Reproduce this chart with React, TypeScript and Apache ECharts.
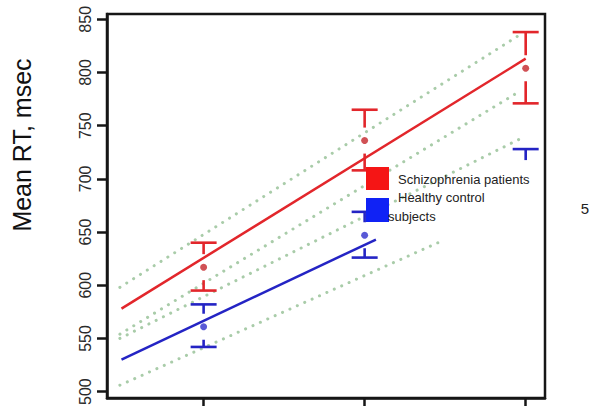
import { useEffect, useRef } from "react";
import * as echarts from "echarts";

// ---- data ----
const xTicks = [1, 2, 3];
const yTicks = [500, 550, 600, 650, 700, 750, 800, 850];

const groups = ["Schizophrenia patients", "Healthy control subjects"];

const schizoMeans = [617, 736, 804];
const schizoUpper = [640, 765, 838];
const schizoLower = [595, 708, 771];

const controlMeans: (number | null)[] = [561, 647, null];
const controlUpper: (number | null)[] = [582, 669, 728];
const controlLower: (number | null)[] = [542, 626, null];

// regression lines
const schizoFitX = [0.49, 3.0];
const schizoFitY = [578, 813];
const controlFitX = [0.49, 2.07];
const controlFitY = [530, 643];

// confidence bands (dotted)
const schizoBandX = [0.48, 2.97];
const schizoBandHiY = [598, 836];
const schizoBandLoY = [554, 783];
const controlBandHiX = [0.48, 2.97];
const controlBandHiY = [550, 738];
const controlBandLoX = [0.48, 2.47];
const controlBandLoY = [506, 641];

const RED = "#e2262b";
const RED_DOT = "#c4262b";
const BLUE = "#2424c4";
const BLUE_DOT = "#3030cc";
const BAND = "#a9cca9";
const FONT = "Liberation Sans, Arial, sans-serif";

const pairs = (xs: number[], ys: (number | null)[]) => xs.map((x, i) => [x, ys[i]]);

const errRender = (color: string) => (params: any, api: any) => {
  const x = api.value(0);
  const mean = api.value(1);
  const low = api.value(2);
  const high = api.value(3);
  const half = 13;
  const gap = 13;
  const style = { stroke: color, lineWidth: 2.6 };
  const children: any[] = [];
  const pm = mean == null || isNaN(mean) ? null : api.coord([x, mean]);
  if (high != null && !isNaN(high)) {
    const ph = api.coord([x, high]);
    children.push({ type: "line", shape: { x1: ph[0] - half, y1: ph[1], x2: ph[0] + half, y2: ph[1] }, style });
    const endY = pm ? pm[1] - gap : ph[1] + 11;
    children.push({ type: "line", shape: { x1: ph[0], y1: ph[1], x2: ph[0], y2: endY }, style });
  }
  if (low != null && !isNaN(low)) {
    const pl = api.coord([x, low]);
    children.push({ type: "line", shape: { x1: pl[0] - half, y1: pl[1], x2: pl[0] + half, y2: pl[1] }, style });
    const endY = pm ? pm[1] + gap : pl[1] - 11;
    children.push({ type: "line", shape: { x1: pl[0], y1: pl[1], x2: pl[0], y2: endY }, style });
  }
  return { type: "group", children };
};

export default function App() {
  const ref = useRef<HTMLDivElement>(null);
  useEffect(() => {
    if (!ref.current) return;
    const chart = echarts.init(ref.current, null, { renderer: "svg" });

    const bandLine = (name: string, xs: number[], ys: number[]) => ({
      name,
      type: "line",
      data: pairs(xs, ys),
      symbol: "none",
      z: 1,
      lineStyle: { color: BAND, width: 3, type: [0.1, 8], cap: "round" },
      silent: true,
    });

    chart.setOption({
      animation: false,
      grid: {
        left: 107,
        top: 14,
        width: 438,
        height: 384,
        show: true,
        borderColor: "#161616",
        borderWidth: 2.5,
        backgroundColor: "transparent",
        outerBoundsMode: "none",
      },
      xAxis: {
        type: "value",
        min: 0.4,
        max: 3.12,
        splitLine: { show: false },
        axisLine: { onZero: false, lineStyle: { color: "#161616", width: 2.5 } },
        axisTick: { customValues: xTicks, length: 8, lineStyle: { color: "#161616", width: 2.5 } },
        axisLabel: { show: false },
      },
      yAxis: {
        type: "value",
        min: 494,
        max: 855,
        splitLine: { show: false },
        axisLine: { onZero: false, lineStyle: { color: "#161616", width: 2.5 } },
        axisTick: { customValues: yTicks, length: 10, lineStyle: { color: "#161616", width: 2.5 } },
        axisLabel: {
          customValues: yTicks,
          rotate: 90,
          fontSize: 16,
          margin: 14,
          color: "#2a2a2a",
          fontFamily: FONT,
        },
      },
      series: [
        bandLine("schizoBandHi", schizoBandX, schizoBandHiY),
        bandLine("schizoBandLo", schizoBandX, schizoBandLoY),
        bandLine("controlBandHi", controlBandHiX, controlBandHiY),
        bandLine("controlBandLo", controlBandLoX, controlBandLoY),
        {
          name: groups[0] + " fit",
          type: "line",
          data: pairs(schizoFitX, schizoFitY),
          symbol: "none",
          z: 3,
          lineStyle: { color: RED, width: 2.5 },
        },
        {
          name: groups[1] + " fit",
          type: "line",
          data: pairs(controlFitX, controlFitY),
          symbol: "none",
          z: 3,
          lineStyle: { color: BLUE, width: 2.5 },
        },
        {
          name: groups[0] + " err",
          type: "custom",
          z: 4,
          renderItem: errRender(RED),
          data: xTicks.map((x, i) => [x, schizoMeans[i], schizoLower[i], schizoUpper[i]]),
        },
        {
          name: groups[1] + " err",
          type: "custom",
          z: 4,
          renderItem: errRender(BLUE),
          data: xTicks.map((x, i) => [x, controlMeans[i], controlLower[i], controlUpper[i]]),
        },
        {
          name: groups[0],
          type: "scatter",
          z: 5,
          symbolSize: 7,
          itemStyle: { color: RED_DOT },
          data: pairs(xTicks, schizoMeans),
        },
        {
          name: groups[1],
          type: "scatter",
          z: 5,
          symbolSize: 7,
          itemStyle: { color: BLUE_DOT },
          data: pairs(xTicks, controlMeans).filter((p) => p[1] != null),
        },
      ],
      graphic: [
        {
          type: "text",
          x: 22,
          y: 145,
          rotation: Math.PI / 2,
          style: {
            text: "Mean RT, msec",
            fontSize: 25,
            fontFamily: FONT,
            fill: "#111",
            align: "center",
            verticalAlign: "middle",
          },
          z: 10,
        },
        { type: "rect", shape: { x: 366, y: 167, width: 23, height: 23 }, style: { fill: "#f51515" }, z: 10 },
        { type: "rect", shape: { x: 366, y: 198, width: 23, height: 24 }, style: { fill: "#1022f5" }, z: 10 },
        {
          type: "text",
          x: 398,
          y: 179,
          style: { text: "Schizophrenia patients", fontSize: 13, fontFamily: FONT, fill: "#222", verticalAlign: "middle" },
          z: 11,
        },
        {
          type: "text",
          x: 398,
          y: 197,
          style: { text: "Healthy control", fontSize: 13, fontFamily: FONT, fill: "#222", verticalAlign: "middle" },
          z: 11,
        },
        {
          type: "text",
          x: 388,
          y: 216,
          style: { text: "subjects", fontSize: 13, fontFamily: FONT, fill: "#222", verticalAlign: "middle" },
          z: 11,
        },
        {
          type: "text",
          x: 585,
          y: 208,
          style: { text: "5", fontSize: 15, fontFamily: FONT, fill: "#222", align: "center", verticalAlign: "middle" },
          z: 11,
        },
      ],
    });
    return () => chart.dispose();
  }, []);
  return (
    <div
      ref={ref}
      style={{ position: "absolute", left: 0, top: 0, width: 600, height: 419, background: "#fff" }}
    />
  );
}
